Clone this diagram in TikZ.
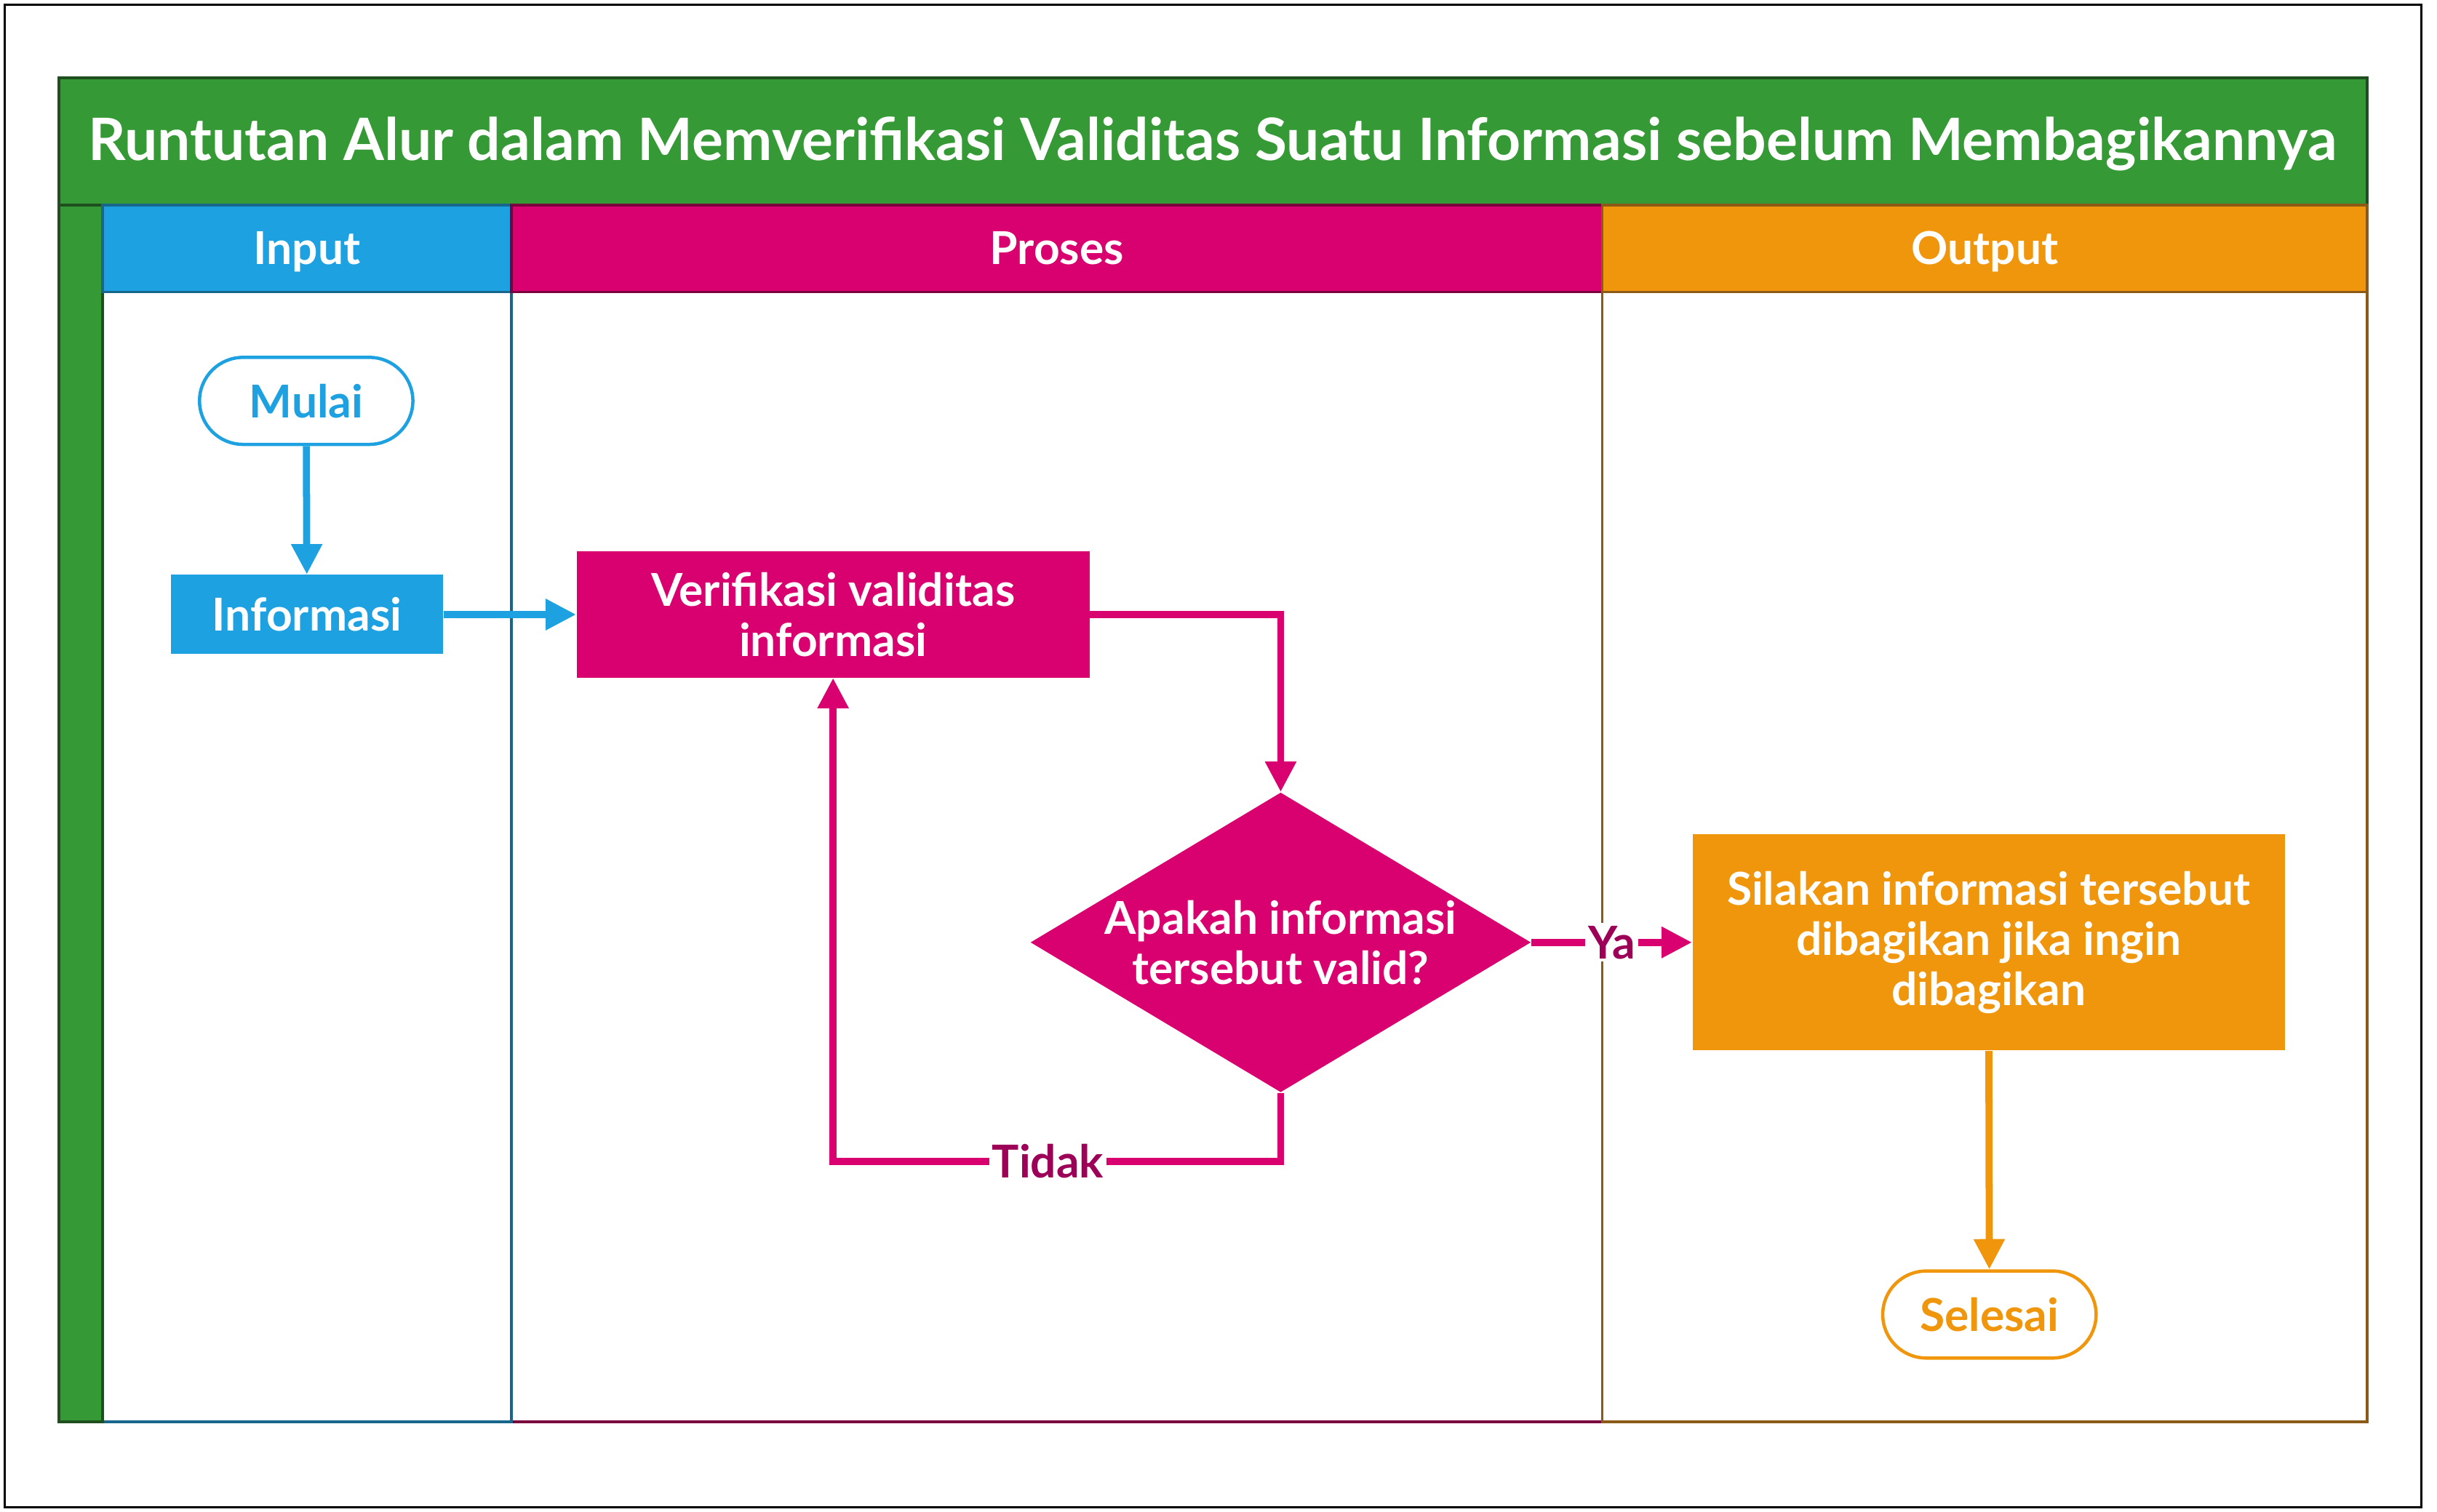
\documentclass[tikz,border=0pt]{standalone}
\usepackage{fontspec}
\setmainfont{Lato}
\usetikzlibrary{arrows.meta,positioning,shapes.geometric,shapes.misc}

\definecolor{poolgreen}{HTML}{359A35}
\definecolor{pooldark}{HTML}{1F4F1F}
\definecolor{inblue}{HTML}{1DA1E0}
\definecolor{inline}{HTML}{17668C}
\definecolor{prmag}{HTML}{D9006F}
\definecolor{prline}{HTML}{7A003E}
\definecolor{outorg}{HTML}{F0960C}
\definecolor{outline}{HTML}{8A5A16}
\definecolor{lblmag}{HTML}{9C0057}

\newcommand{\nodefont}{\bfseries\fontsize{16.6}{18.4}\selectfont}

\tikzset{
  lane/.style={line width=0.9pt},
  proc/.style={rectangle, text=white, font=\nodefont, align=center, inner sep=0pt},
  term/.style={rounded rectangle, draw, line width=1.2pt, fill=white, font=\nodefont,
    minimum width=29.8mm, minimum height=11.2mm},
  qtext/.style={text=white, font=\nodefont, align=center},
  flow/.style={line width=2.6pt, -{Triangle[length=3.9mm,width=3.8mm]}},
  yesno/.style={fill=white, text=lblmag, font=\nodefont, inner sep=1pt},
}

\begin{document}
\begin{tikzpicture}[x=0.2mm,y=-0.2mm]
\useasboundingbox (0,0) rectangle (1568,973);
%% outer frame
\draw[line width=0.9pt] (3,3) rectangle (1558,970);
%% lane bodies
\draw[lane, draw=prline, fill=white] (329,188) rectangle (1031,915);
\draw[lane, draw=inline] (66,188) rectangle (329,915);
\draw[lane, draw=outline] (1031,188) rectangle (1523,915);
%% pool title and side bar
\draw[lane, draw=pooldark, fill=poolgreen] (38,50) rectangle (1523,132);
\draw[lane, draw=pooldark, fill=poolgreen] (38,132) rectangle (66,915);
\node[text=white, font=\bfseries\fontsize{21.4}{25}\selectfont, anchor=base] (judul) at (780,103)
  {Runtutan Alur dalam Memverifikasi Validitas Suatu Informasi sebelum Membagikannya};
%% lane headers
\draw[lane, draw=inline, fill=inblue] (66,132) rectangle (329,188);
\draw[lane, draw=prline, fill=prmag] (329,132) rectangle (1031,188);
\draw[lane, draw=outline, fill=outorg] (1031,132) rectangle (1523,188);
\node[qtext, anchor=base] (hinput) at (197.5,170) {Input};
\node[qtext, anchor=base] (hproses) at (680,170) {Proses};
\node[qtext, anchor=base] (houtput) at (1277,170) {Output};

%% shapes
\node[term, draw=inblue, text=inblue] (mulai) at (197,258) {Mulai};
\node[proc, fill=inblue, minimum width=35mm, minimum height=10.2mm] (info) at (197.5,395.5) {Informasi};
\node[proc, fill=prmag, minimum width=66mm, minimum height=16.2mm] (verif) at (536,395.5)
  {Verifikasi validitas\\informasi};
\node[diamond, fill=prmag, inner sep=0pt, minimum width=64.4mm, minimum height=38.6mm,
  label={[qtext]center:{Apakah informasi\\tersebut valid?}}] (cek) at (824,606.5) {};
\node[proc, fill=outorg, minimum width=76.2mm, minimum height=27.8mm] (bagi) at (1279.5,606.5)
  {Silakan informasi tersebut\\dibagikan jika ingin\\dibagikan};
\node[term, draw=outorg, text=outorg] (selesai) at (1280,846) {Selesai};

%% connectors
\draw[flow, inblue] (mulai) -- (info);
\draw[flow, inblue] (info) -- (verif);
\draw[flow, prmag] (verif.east) -| (cek.north);
\draw[flow, prmag] (cek.south) -- ++(0,44) -| node[pos=0.26, yesno] {Tidak} (verif.south);
\draw[flow, prmag] (cek.east) -- node[yesno] {Ya} (bagi.west);
\draw[flow, outorg] (bagi) -- (selesai);
\end{tikzpicture}
\end{document}
